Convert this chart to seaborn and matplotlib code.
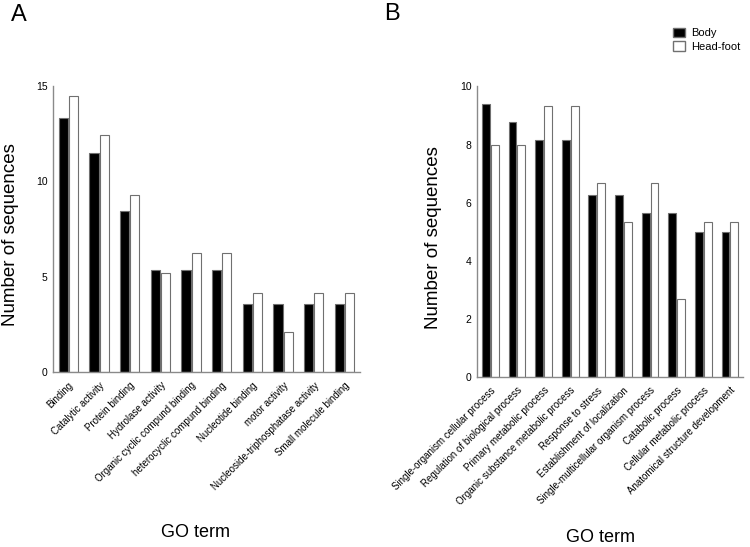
import pandas as pd
import numpy as np
import matplotlib
matplotlib.use("Agg")
import matplotlib.pyplot as plt
import seaborn as sns
from matplotlib.patches import Patch

# data
terms_a = ["Binding", "Catalytic activity", "Protein binding", "Hydrolase activity",
           "Organic cyclic compund binding", "heterocyclic compund binding",
           "Nucleotide binding", "motor activity",
           "Nucleoside-triphosphatase activity", "Small molecule binding"]
body_a = [13.3, 11.5, 8.44, 5.33, 5.33, 5.33, 3.57, 3.57, 3.57, 3.57]
head_a = [14.45, 12.4, 9.3, 5.19, 6.22, 6.22, 4.14, 2.08, 4.14, 4.14]

terms_b = ["Single-organism cellular process", "Regulation of biological process",
           "Primary metabolic process", "Organic substance metabolic process",
           "Response to stress", "Establishment of localization",
           "Single-multicellular organism process", "Catabolic process",
           "Cellular metabolic process", "Anatomical structure development"]
body_b = [9.39, 8.76, 8.14, 8.14, 6.26, 6.26, 5.64, 5.64, 5.0, 5.0]
head_b = [8.0, 8.0, 9.32, 9.32, 6.67, 5.33, 6.67, 2.67, 5.33, 5.33]

groups = ["Body", "Head-foot"]

sns.set_style("white")
plt.rcParams["font.family"] = ["Liberation Sans", "DejaVu Sans"]
plt.rcParams["text.color"] = "black"
plt.rcParams["axes.labelcolor"] = "black"
plt.rcParams["xtick.labelcolor"] = "black"
plt.rcParams["ytick.labelcolor"] = "black"

def long_df(terms, body, head):
    return pd.DataFrame({
        "term": terms * 2,
        "value": body + head,
        "group": [groups[0]] * len(terms) + [groups[1]] * len(terms),
    })

fig = plt.figure(figsize=(7.5, 5.47), dpi=100)
ax_a = fig.add_axes([0.0707, 0.320, 0.409, 0.523])
ax_b = fig.add_axes([0.636, 0.311, 0.355, 0.531])

pal = {"Body": "black", "Head-foot": "white"}
spine_col = "#8a8a8a"

panels = [(ax_a, long_df(terms_a, body_a, head_a), 15, [0, 5, 10, 15], terms_a, -0.112, -0.532),
          (ax_b, long_df(terms_b, body_b, head_b), 10, [0, 2, 4, 6, 8, 10], terms_b, -0.133, -0.525)]

for ax, df, ymax, yt, terms, ylab_x, xlab_y in panels:
    sns.barplot(data=df, x="term", y="value", hue="group", palette=pal,
                width=0.66, gap=0.1, edgecolor="#707070", linewidth=0.8,
                ax=ax, legend=False)
    ax.set_xlim(-0.5, len(terms) - 0.5)
    ax.set_ylim(0, ymax)
    ax.set_yticks(yt)
    ax.set_xticks(range(len(terms)))
    ax.set_xticklabels(terms, rotation=45, ha="right", rotation_mode="anchor", fontsize=7)
    ax.tick_params(axis="y", labelsize=7.5, length=3, width=0.8, color=spine_col, pad=1)
    ax.tick_params(axis="x", length=4, width=0.8, color=spine_col, pad=2)
    sns.despine(ax=ax)
    for s in ["left", "bottom"]:
        ax.spines[s].set_color(spine_col)
        ax.spines[s].set_linewidth(1.0)
    ax.set_ylabel("Number of sequences", fontsize=13.5)
    ax.yaxis.set_label_coords(ylab_x, 0.48)
    ax.set_xlabel("GO term", fontsize=13)
    ax.xaxis.set_label_coords(0.465, xlab_y)

fig.text(0.015, 0.972, "A", fontsize=17, va="center", ha="left")
fig.text(0.512, 0.975, "B", fontsize=17, va="center", ha="left")

handles = [Patch(facecolor="black", edgecolor="#707070", label="Body"),
           Patch(facecolor="white", edgecolor="#707070", label="Head-foot")]
fig.legend(handles=handles, loc="upper right", bbox_to_anchor=(1.0, 0.968),
           frameon=False, fontsize=8, handlelength=1.1, handleheight=1.0,
           handletextpad=0.5, labelspacing=0.25)

fig.savefig("out.png", dpi=100)
